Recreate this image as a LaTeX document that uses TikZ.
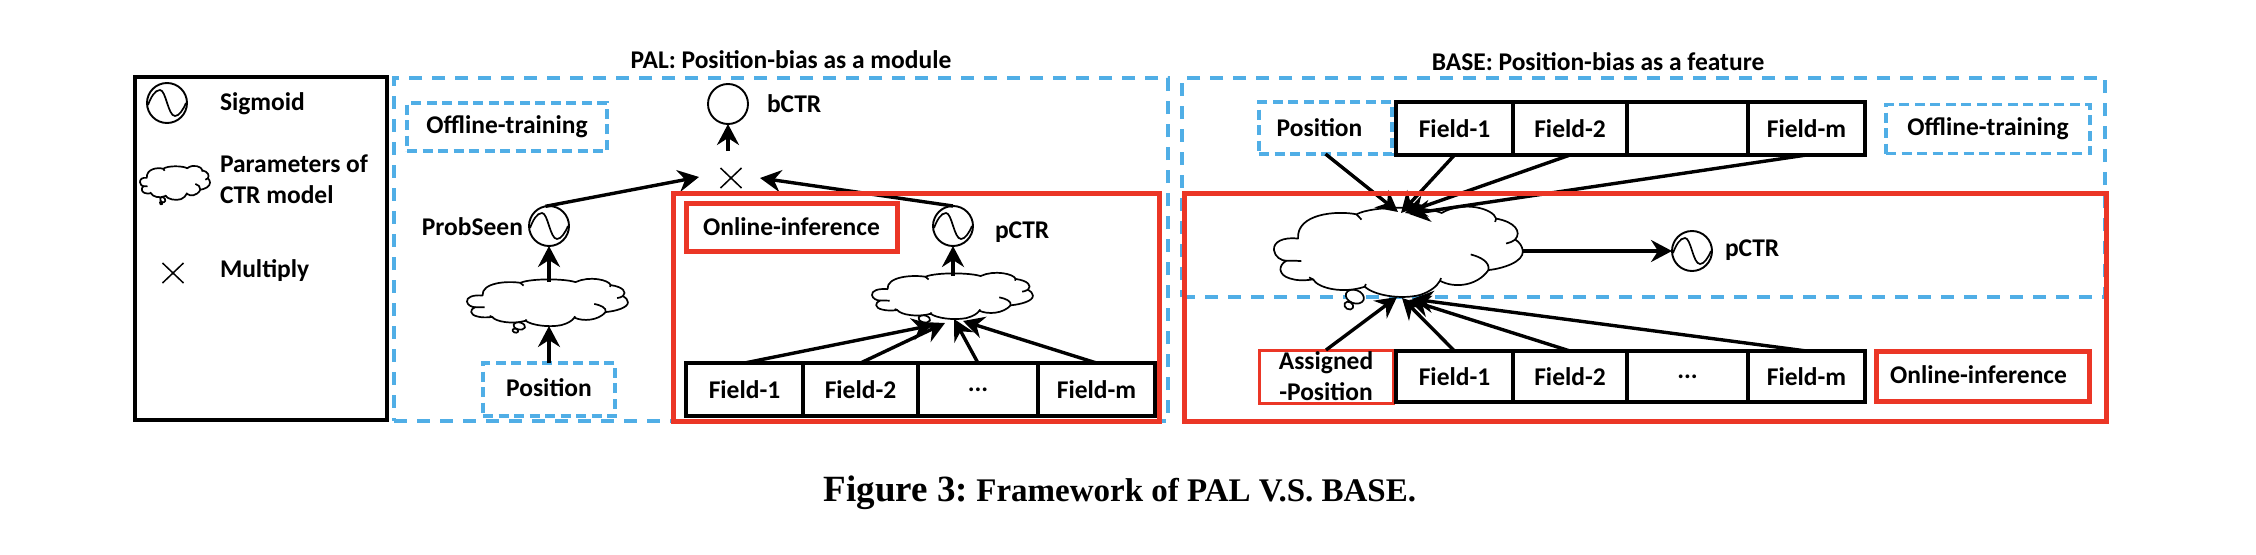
\documentclass[tikz,border=0pt]{standalone}
\usepackage{fontspec}
\setmainfont{Carlito}
\newfontfamily\capfont{Liberation Serif}
\usetikzlibrary{arrows.meta,shapes.misc}
\definecolor{frameblue}{RGB}{80,174,230}
\definecolor{framered}{RGB}{235,54,38}
\newcommand\labelfont{\fontsize{25.5}{31}\selectfont\bfseries}
\newcommand\sigwave[1]{%
  \begin{scope}[shift={(#1.center)}]
    \draw[sigline] (-19,2) .. controls (-16,-6) and (-12,-13) .. (-7,-13)
      .. controls (-1,-13) and (1,13) .. (8,13)
      .. controls (12,13) and (16,7) .. (19,0);
  \end{scope}}
\newcommand\cloudat[4]{%
  \begin{scope}[shift={(#1,#2)},xscale=#3,yscale=#4,shift={(-103,-50)}]
    \draw[cloudline,fill=white,rotate around={-20:(345,320)}] (345,320) ellipse [x radius=28,y radius=20];
    \draw[cloudline,fill=white,rotate around={-30:(327,347)}] (327,347) ellipse [x radius=14,y radius=11];
    \draw[cloudline,fill=white] (175,145) .. controls (130,140) and (100,155) .. (103,180)
      .. controls (105,200) and (125,212) .. (140,212)
      .. controls (115,225) and (115,255) .. (150,265)
      .. controls (170,272) and (195,272) .. (220,268)
      .. controls (235,295) and (310,312) .. (375,290)
      .. controls (400,315) and (480,330) .. (540,315)
      .. controls (570,305) and (590,290) .. (600,272)
      .. controls (640,295) and (710,290) .. (745,240)
      .. controls (790,235) and (850,215) .. (848,183)
      .. controls (847,170) and (838,155) .. (825,148)
      .. controls (845,125) and (825,95) .. (768,85)
      .. controls (760,55) and (670,30) .. (605,68)
      .. controls (560,48) and (400,45) .. (350,72)
      .. controls (290,60) and (170,70) .. (175,145) -- cycle;
    \draw[cloudline] (140,212) .. controls (155,211) and (170,212) .. (185,213);
    \draw[cloudline] (350,72) -- (365,88);
    \draw[cloudline] (825,148) .. controls (815,155) and (808,158) .. (798,160);
    \draw[cloudline] (745,240) .. controls (750,215) and (720,200) .. (692,193);
    \draw[cloudline] (768,85) -- (765,95);
    \draw[cloudline] (220,268) -- (208,262);
    \draw[cloudline] (375,290) -- (378,282);
    \draw[cloudline] (600,272) -- (603,264);
  \end{scope}}
\tikzset{
  sigline/.style={line width=1.7pt,black},
  cloudline/.style={line width=1.7pt,black,line join=round},
  sigcircle/.style={circle,draw=black,line width=1.9pt,minimum size=40pt,inner sep=0pt,outer sep=0pt},
  lbl/.style={font=\labelfont,inner sep=0pt,outer sep=0pt,text=black},
  fieldbox/.style={draw=black,line width=3.3pt,font=\labelfont,inner sep=0pt,outer sep=0pt,minimum height=#1},
  blueouter/.style={draw=frameblue,line width=3.6pt,dash pattern=on 13pt off 10pt,inner sep=0pt,outer sep=0pt},
  bluebox/.style={draw=frameblue,line width=3.4pt,dash pattern=on 10pt off 5.5pt,inner sep=0pt,outer sep=0pt,font=\labelfont},
  redouter/.style={draw=framered,line width=5pt,inner sep=0pt,outer sep=0pt},
  redbox/.style={draw=framered,line width=5pt,inner sep=0pt,outer sep=0pt,font=\labelfont},
  conn/.style={line width=3.4pt,black,-{Stealth[length=21pt,width=22pt,inset=7pt]}},
  crossmark/.style={cross out,draw=black,line width=1.5pt,minimum width=21pt,minimum height=20pt,inner sep=0pt,outer sep=0pt},
}
\begin{document}
\begin{tikzpicture}[x=1pt,y=-1pt]
\useasboundingbox (0,0) rectangle (2256,554);
\fill[white] (0,0) rectangle (2256,554);

% titles
\node[lbl] (titlepal) at (791,60) {PAL: Position-bias as a module};
\node[lbl] (titlebase) at (1598,62) {BASE: Position-bias as a feature};

% legend
\node[draw=black,line width=3.6pt,minimum width=252pt,minimum height=343pt,inner sep=0pt,outer sep=0pt] (legend) at (261,248.5) {};
\node[sigcircle] (legsig) at (167,103) {};
\sigwave{legsig}
\node[lbl,anchor=west] (legsigt) at (220,104) {Sigmoid};
\cloudat{140}{166}{0.094}{0.125}
\node[lbl,anchor=west] (legpar) at (220,164) {Parameters of};
\node[lbl,anchor=west] (legctr) at (220,195) {CTR model};
\node[crossmark] (legmul) at (173,273) {};
\node[lbl,anchor=west] (legmult) at (220,271) {Multiply};

% outer blue frames
\node[blueouter,minimum width=774pt,minimum height=343pt] (palframe) at (781,249.5) {};
\node[blueouter,minimum width=923pt,minimum height=219pt] (baseframe) at (1643.5,187.5) {};

% PAL, left
\node[bluebox,minimum width=200pt,minimum height=48pt] (offa) at (507,127) {Offline-training};
\node[sigcircle] (bctr) at (728,104) {};
\node[lbl,anchor=west] (bctrt) at (767,104) {bCTR};
\node[crossmark] (mul) at (731,178) {};
\coordinate (mult) at (728,151);
\coordinate (mull) at (699,177);
\coordinate (mulr) at (760,178);
\node[sigcircle] (ps) at (549,226) {};
\sigwave{ps}
\node[lbl,anchor=east] (pst) at (523,227) {ProbSeen};
\cloudat{467}{279}{0.216}{0.174}
\coordinate (cla) at (549,326);
\coordinate (cltop) at (549,282);
\node[bluebox,minimum width=132pt,minimum height=53pt] (posa) at (549,389.5) {\raisebox{4pt}{Position}};

% PAL, right
\node[sigcircle] (pc) at (953,226) {};
\sigwave{pc}
\node[lbl,anchor=west] (pct) at (995,232) {pCTR};
\cloudat{872}{273}{0.216}{0.170}
\coordinate (clb) at (953,276);
\node[fieldbox=53pt,minimum width=117pt] (fa) at (744.5,389.5) {Field-1};
\node[fieldbox=53pt,minimum width=115pt] (fb) at (860.5,389.5) {Field-2};
\node[fieldbox=53pt,minimum width=120pt] (fc) at (978,389.5) {...};
\node[fieldbox=53pt,minimum width=117pt] (fd) at (1096.5,389.5) {Field-m};
\coordinate (ta) at (933,325);
\coordinate (tb) at (945,323);
\coordinate (tc) at (954,319);
\coordinate (td) at (963,321);

% BASE
\node[bluebox,minimum width=133pt,minimum height=52pt] (posb) at (1325.5,128) {\raisebox{1.5pt}{Position}\hspace*{12pt}};
\node[fieldbox=53pt,minimum width=117pt] (ga) at (1454.5,128.5) {Field-1};
\node[fieldbox=53pt,minimum width=114pt] (gb) at (1570,128.5) {Field-2};
\node[fieldbox=53pt,minimum width=121pt] (gc) at (1687.5,128.5) {};
\node[fieldbox=53pt,minimum width=117pt] (gd) at (1806.5,128.5) {Field-m};
\node[bluebox,minimum width=204pt,minimum height=49pt] (offb) at (1988,129) {Offline-training};

\cloudat{1274}{207}{0.334}{0.332}
\node[sigcircle] (pcb) at (1692,251) {};
\sigwave{pcb}
\node[lbl,anchor=west] (pcbt) at (1725,250) {pCTR};
\coordinate (ccr) at (1523,251);
\coordinate (cta) at (1398,212);
\coordinate (ctb) at (1401,213);
\coordinate (ctc) at (1405,213);
\coordinate (ctd) at (1409,214);
\coordinate (cba) at (1397,297);
\coordinate (cbb) at (1402,298);
\coordinate (cbc) at (1409,300);
\coordinate (cbd) at (1412,299);

\node[redbox,line width=3pt,minimum width=134pt,minimum height=53pt,align=center] (asg) at (1326,376.5) {Assigned\\-Position};
\node[fieldbox=51pt,minimum width=117pt] (ha) at (1454.5,376.5) {Field-1};
\node[fieldbox=51pt,minimum width=114pt] (hb) at (1570,376.5) {Field-2};
\node[fieldbox=51pt,minimum width=121pt] (hc) at (1687.5,376.5) {...};
\node[fieldbox=51pt,minimum width=117pt] (hd) at (1806.5,376.5) {Field-m};
\node[redbox,minimum width=213pt,minimum height=50pt] (onb) at (1982.5,376) {\raisebox{3pt}{Online-inference\hspace*{8pt}}};

% connectors
\draw[conn] (mult) -- (bctr.south);
\draw[conn] (ps.100) -- (mull);
\draw[conn] (pc.90) -- (mulr);
\draw[conn] (cltop) -- (ps.south);
\draw[conn] (posa.north) -- (cla);
\draw[conn] (clb) -- (pc.south);
\draw[conn] (fa.north) -- (ta);
\draw[conn] (fb.north) -- (tb);
\draw[conn] (fc.north) -- (tc);
\draw[conn] (fd.north) -- (td);
\draw[conn] (posb.south) -- (cta);
\draw[conn] (ga.south) -- (ctb);
\draw[conn] (gb.south) -- (ctc);
\draw[conn] (gd.south) -- (ctd);
\draw[conn] (ccr) -- (pcb.west);
\draw[conn] (asg.north) -- (cba);
\draw[conn] (ha.north) -- (cbb);
\draw[conn] (hb.north) -- (cbc);
\draw[conn] (hd.north) -- (cbd);

% red frames on top
\node[redouter,minimum width=486pt,minimum height=228pt] (redpal) at (916,307) {};
\node[redbox,minimum width=211pt,minimum height=48pt] (ona) at (791.5,227) {Online-inference};
\node[redouter,minimum width=922pt,minimum height=228pt] (redbase) at (1645,307) {};

% caption
\node[inner sep=0pt,outer sep=0pt] (caption) at (1120,493) {\capfont\bfseries{\fontsize{37}{40}\selectfont Figure 3:}\hspace{5pt} {\fontsize{33}{40}\selectfont Framework of PAL V.S. BASE.}};
\end{tikzpicture}
\end{document}
